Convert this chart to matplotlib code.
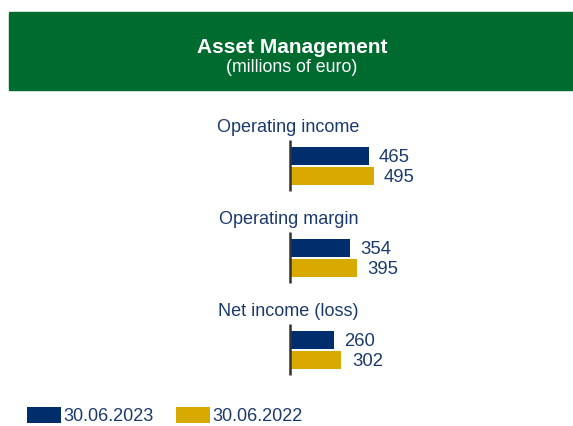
import matplotlib
matplotlib.use("Agg")
import matplotlib.pyplot as plt
from matplotlib.patches import Rectangle, Patch
import numpy as np

plt.rcParams['font.family'] = ['Liberation Sans', 'DejaVu Sans']

# ---- data ----
categories = ["Operating income", "Operating margin", "Net income (loss)"]
series_names = ["30.06.2023", "30.06.2022"]
values_2023 = [465, 354, 260]
values_2022 = [495, 395, 302]
title = "Asset Management"
subtitle = "(millions of euro)"

NAVY = "#002D6B"
GOLD = "#D8AA00"
TEXT = "#1B3A6C"
GREEN = "#006B2E"

W, H = 573, 426
fig = plt.figure(figsize=(W / 100, H / 100), dpi=100)

def fx(px):
    return px / W

def fy(py):
    return 1 - py / H

# banner
fig.patches.append(Rectangle((fx(9), fy(90)), fx(573) - fx(9), fy(12) - fy(90),
                             transform=fig.transFigure, color=GREEN, zorder=0))
fig.text(fx(292), fy(53), title, color="white", fontsize=15, fontweight="bold",
         ha="center", va="baseline")
fig.text(fx(292), fy(71.5), subtitle, color="white", fontsize=12.8,
         ha="center", va="baseline")

# bar axes: left edge at value 0 (x=291px), y from 100px to 390px
ax_left, ax_right = 291, 573
ax_top, ax_bot = 100, 390
ax = fig.add_axes([fx(ax_left), fy(ax_bot), fx(ax_right) - fx(ax_left), fy(ax_top) - fy(ax_bot)])
px_per_unit = 0.1668
ax.set_xlim(0, (ax_right - ax_left) / px_per_unit)
grp = 92.0
ax.set_ylim((ax_bot - 166) / grp, (ax_top - 166) / grp)
ax.axis("off")

y = np.arange(len(categories))
bh = 18 / grp
off = 10 / grp
ax.barh(y - off, values_2023, height=bh, color=NAVY, label=series_names[0])
ax.barh(y + off, values_2022, height=bh, color=GOLD, label=series_names[1])

for i in y:
    ax.vlines(-5, i - 26 / grp, i + 25 / grp, color="#333333", lw=1.8, zorder=3,
              clip_on=False)
    ax.text(-15, i - 34 / grp, categories[i], color=TEXT, fontsize=13,
            ha="center", va="baseline", clip_on=False)
    ax.annotate(str(values_2023[i]), (values_2023[i], i - off), xytext=(7, -1.2),
                textcoords="offset points", ha="left", va="center",
                color=TEXT, fontsize=13.3)
    ax.annotate(str(values_2022[i]), (values_2022[i], i + off), xytext=(7.5, -1.2),
                textcoords="offset points", ha="left", va="center",
                color=TEXT, fontsize=13.3)

handles = [Patch(facecolor=NAVY, edgecolor="none"), Patch(facecolor=GOLD, edgecolor="none")]
fig.legend(handles, series_names, loc="center left",
           bbox_to_anchor=(fx(27), fy(416)), ncol=2, frameon=False,
           fontsize=13, handlelength=1.9, handleheight=0.95, handletextpad=0.1,
           columnspacing=1.25, borderpad=0, borderaxespad=0, labelcolor=TEXT)

fig.savefig("out.png", dpi=100)
